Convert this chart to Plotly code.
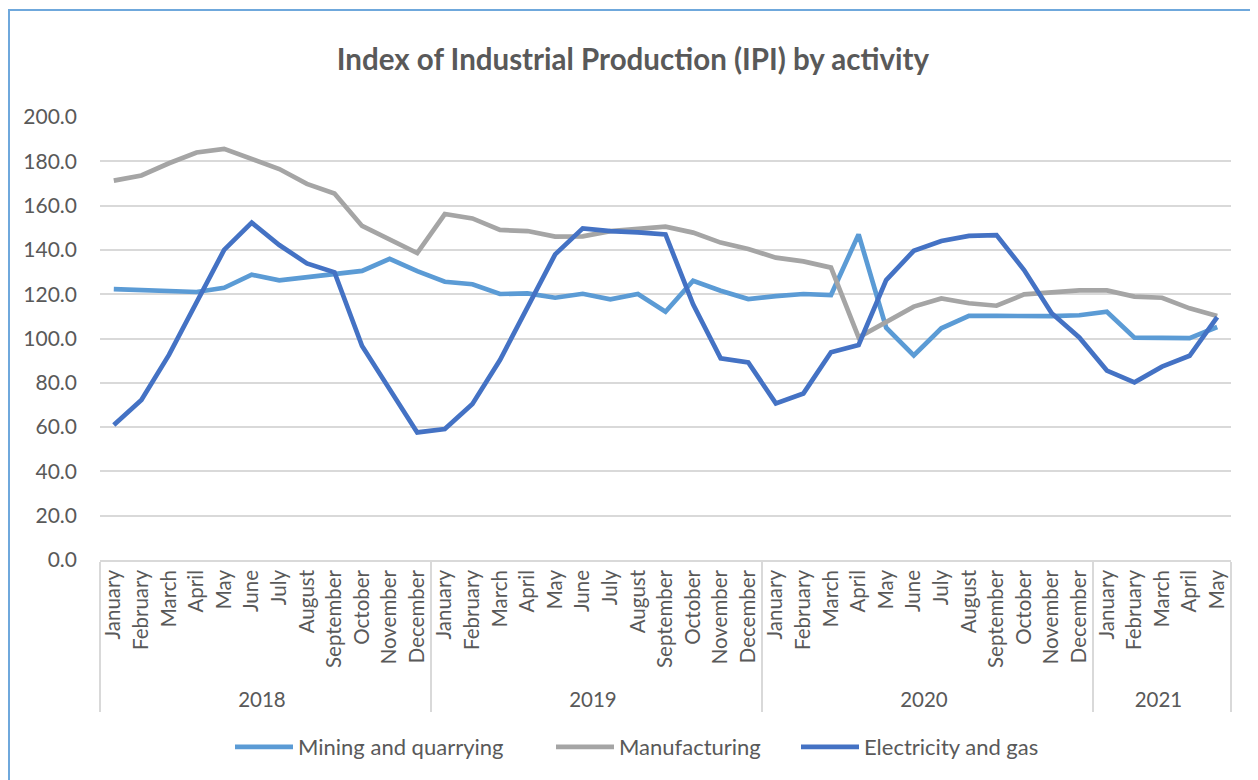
import plotly.graph_objects as go

months = ["January", "February", "March", "April", "May", "June", "July", "August",
          "September", "October", "November", "December"]
years = ["2018", "2019", "2020", "2021"]
months_per_year = [12, 12, 12, 5]

mining = [122.3, 121.8, 121.3, 121.0, 122.9, 128.8, 126.3, 127.6, 128.7, 130.5, 136.0, 130.4,
          125.6, 124.5, 120.1, 120.4, 118.4, 120.2, 117.7, 120.1, 112.1, 126.1, 121.6, 117.8,
          119.1, 120.1, 119.6, 147.0, 104.9, 92.4, 104.6, 110.2, 110.2, 110.1, 110.1, 110.5,
          112.1, 100.4, 100.2, 100.2, 105.2]
manufacturing = [171.3, 173.6, 179.1, 184.0, 185.6, 181.0, 176.5, 169.8, 165.5, 150.8, 144.8, 138.6,
                 156.2, 154.2, 149.0, 148.5, 146.0, 146.1, 148.5, 149.4, 150.5, 147.8, 143.3, 140.4,
                 136.5, 134.8, 132.0, 100.5, 107.6, 114.4, 118.1, 115.9, 114.8, 119.9, 120.8, 121.7,
                 121.7, 118.9, 118.4, 113.6, 110.2]
electricity = [60.9, 72.2, 92.6, 116.2, 140.0, 152.3, 142.2, 133.9, 129.9, 96.6, 76.7, 57.6,
               59.1, 70.4, 90.3, 114.4, 138.0, 149.7, 148.5, 147.9, 147.0, 115.4, 91.0, 89.2,
               70.7, 75.2, 93.8, 97.1, 126.4, 139.6, 144.0, 146.3, 146.7, 130.9, 111.4, 100.5,
               85.5, 80.2, 87.3, 92.2, 109.6]

year_labels = [y for y, n in zip(years, months_per_year) for _ in range(n)]
month_labels = [m for n in months_per_year for m in months[:n]]
x = [year_labels, month_labels]
n_cat = len(month_labels)

FONT = "Lato"
TXT = "#595959"
OFF = 8  # page body margin
W, H = 1258 - OFF, 780 - OFF
# plot area in page coordinates
PL, PR, PT, PB = 100, 1231, 117, 560
L, R, T, B = PL - OFF, W - (PR - OFF), PT - OFF, H - (PB - OFF)
pw, ph = W - L - R, H - T - B


def px_x(page_x):
    return (page_x - OFF - L) / pw


def px_y(page_y):
    return (H - B - (page_y - OFF)) / ph


fig = go.Figure()
series = [("Mining and quarrying", mining, "#5B9BD5", "legend", 236),
          ("Manufacturing", manufacturing, "#A5A5A5", "legend2", 557),
          ("Electricity and gas", electricity, "#4472C4", "legend3", 802)]
legend_cfg = {}
for name, vals, col, lg, lx in series:
    fig.add_trace(go.Scatter(x=x, y=vals, name=name, mode="lines", legend=lg,
                             line=dict(color=col, width=4.7, shape="linear"),
                             hoverinfo="skip"))
    legend_cfg[lg] = dict(orientation="h", x=px_x(lx - 6), xanchor="left",
                          y=px_y(747), yanchor="middle", itemwidth=58,
                          font=dict(size=22, color=TXT, family=FONT),
                          bgcolor="rgba(0,0,0,0)")

fig.add_shape(type="rect", xref="paper", yref="paper",
              x0=px_x(OFF + 1), x1=px_x(1258 + 20), y0=px_y(10), y1=px_y(800),
              line=dict(color="#6FA8DC", width=2), fillcolor="rgba(0,0,0,0)", layer="below")

fig.update_layout(
    width=W, height=H,
    margin=dict(l=L, r=R, t=T, b=B, autoexpand=False),
    paper_bgcolor="white", plot_bgcolor="white",
    font=dict(family=FONT, color=TXT, size=20),
    title=dict(text="<b>Index of Industrial Production (IPI) by activity</b>",
               x=(633 - OFF) / W, xanchor="center", y=1 - (60 - OFF) / H, yanchor="middle",
               font=dict(size=29.5, color=TXT, family=FONT)),
    showlegend=True,
    xaxis=dict(type="multicategory", tickangle=-90, showgrid=False,
               range=[-0.5, n_cat - 0.5],
               showline=True, linecolor="#D9D9D9", linewidth=1.5,
               showdividers=True, dividercolor="#D9D9D9", dividerwidth=1.5,
               tickfont=dict(size=20.5, color=TXT, family=FONT), ticks="",
               automargin=False),
    yaxis=dict(range=[0, 200], dtick=20, tickformat=".1f", showgrid=True,
               gridcolor="#D9D9D9", gridwidth=1.5, zeroline=False, showline=False,
               ticks="", ticklabelstandoff=22,
               tickfont=dict(size=21, color=TXT, family=FONT), automargin=False),
    **legend_cfg,
)

fig.write_html("out.html")
